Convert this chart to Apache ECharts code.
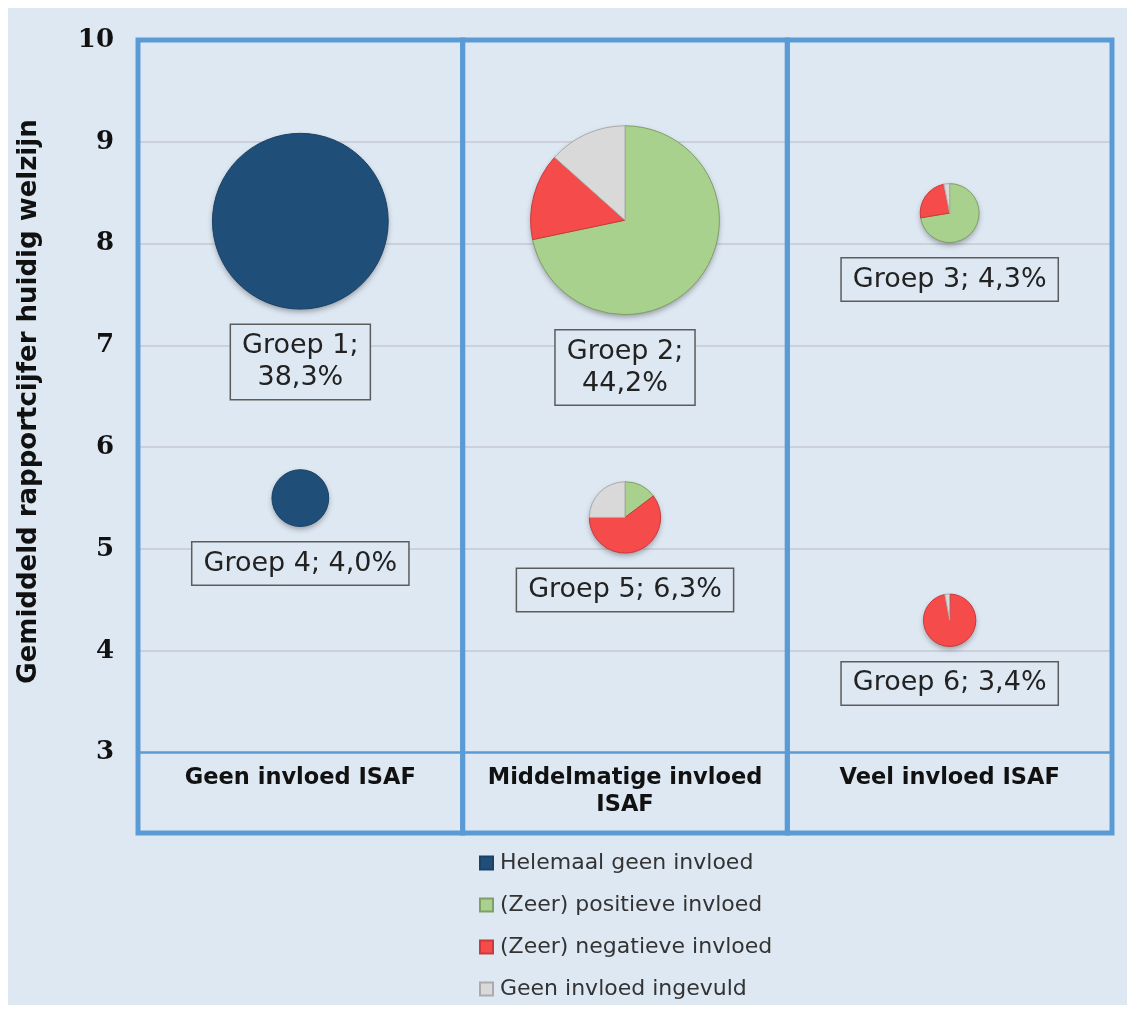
<!DOCTYPE html>
<html><head><meta charset="utf-8">
<script src="https://cdn.jsdelivr.net/npm/echarts@6/dist/echarts.min.js"></script>
<style>html,body{margin:0;padding:0;background:#fff}#c{width:1135px;height:1013px}</style>
</head><body><div id="c"></div>
<script>
// ---- data ----
const categories = ['Geen invloed ISAF', 'Middelmatige invloed\nISAF', 'Veel invloed ISAF'];
const yTicks = [3, 4, 5, 6, 7, 8, 9, 10];
const gridTicks = [4, 5, 6, 7, 8, 9];
const groupNames = ['Groep 1', 'Groep 2', 'Groep 3', 'Groep 4', 'Groep 5', 'Groep 6'];
const groupShare = [38.3, 44.2, 4.3, 4.0, 6.3, 3.4];          // % of respondents
const groupPanel = [0, 1, 2, 0, 1, 2];                          // index into categories
const groupScore = [8.22, 8.23, 8.30, 5.50, 5.31, 4.30];        // gemiddeld rapportcijfer
const labelTexts = ['Groep 1;\n38,3%', 'Groep 2;\n44,2%', 'Groep 3; 4,3%', 'Groep 4; 4,0%', 'Groep 5; 6,3%', 'Groep 6; 3,4%'];
const segmentNames = ['Helemaal geen invloed', '(Zeer) positieve invloed', '(Zeer) negatieve invloed', 'Geen invloed ingevuld'];
const segHelemaal = [100, 0, 0, 100, 0, 0];
const segPositief = [0, 71.7, 72.4, 0, 14.7, 0.5];
const segNegatief = [0, 14.9, 24.4, 0, 60.3, 96.5];
const segGeen     = [0, 13.4, 3.2, 0, 25.0, 3.0];

// ---- style ----
const BG = '#dee8f3';
const BLUE = '#5b9bd5';
const AXIS_MIN = 2.21;          // leaves room for the category band below 3
const RADIUS_PER_SQRT = 14.2;   // bubble radius = k * sqrt(share)
const colors = ['#1f4e79', '#a9d18e', '#f54b4b', '#d9d9d9'];
const borders = ['#1a4266', '#7f9f66', '#c93a3a', '#ababab'];
const segValues = [segHelemaal, segPositief, segNegatief, segGeen];

function segData(si) {
  return groupNames.map((g, gi) => {
    let start = 0;
    for (let k = 0; k < si; k++) start += segValues[k][gi];
    const total = segValues.reduce((s, a) => s + a[gi], 0);
    return [groupPanel[gi] + 0.5, groupScore[gi], groupShare[gi], start / total, (start + segValues[si][gi]) / total];
  });
}
const bubbleData = groupNames.map((g, gi) => [groupPanel[gi] + 0.5, groupScore[gi], groupShare[gi]]);

const pieSeries = segmentNames.map((name, si) => ({
  name: name,
  type: 'custom',
  z: 3,
  silent: true,
  itemStyle: { color: colors[si], borderColor: borders[si], borderWidth: 1 },
  encode: { x: 0, y: 1 },
  data: segData(si),
  renderItem: (params, api) => {
    const c = api.coord([api.value(0), api.value(1)]);
    const r = RADIUS_PER_SQRT * Math.sqrt(api.value(2));
    const a0 = api.value(3), a1 = api.value(4);
    if (!(a1 - a0 > 0)) return { type: 'group', children: [] };
    return {
      type: 'sector',
      shape: { cx: c[0], cy: c[1], r0: 0, r: r,
        startAngle: -Math.PI / 2 + 2 * Math.PI * a0,
        endAngle: -Math.PI / 2 + 2 * Math.PI * a1, clockwise: true },
      style: { fill: colors[si], stroke: borders[si], lineWidth: 1 }
    };
  }
}));

const option = {
  backgroundColor: '#ffffff',
  animation: false,
  color: colors,
  graphic: [{ type: 'rect', z: -10, silent: true, shape: { x: 8, y: 8, width: 1119, height: 997 }, style: { fill: BG } }],
  grid: { left: 138, right: 23, top: 40, bottom: 180, containLabel: false },
  xAxis: { type: 'value', min: 0, max: 3, show: false },
  yAxis: {
    type: 'value', min: AXIS_MIN, max: 10,
    name: 'Gemiddeld rapportcijfer huidig welzijn',
    nameLocation: 'middle', nameRotate: 90, nameGap: 96,
    nameTextStyle: { fontFamily: 'DejaVu Sans', fontWeight: 'bold', fontSize: 26, color: '#111', padding: [0, 0, 0, 70] },
    axisLine: { show: false }, axisTick: { show: false }, splitLine: { show: false },
    axisLabel: { customValues: yTicks, margin: 24, fontFamily: 'DejaVu Serif', fontWeight: 'bold', fontSize: 26, color: '#111' }
  },
  legend: {
    data: segmentNames, orient: 'vertical', left: 474, top: 847,
    itemWidth: 13, itemHeight: 13, itemGap: 20, icon: 'rect',
    textStyle: { fontFamily: 'DejaVu Sans', fontSize: 22, color: '#333', padding: [0, 0, 0, 2] },
    selectedMode: false
  },
  series: [
    { // gridlines
      type: 'scatter', z: 0, silent: true, symbolSize: 0, clip: false,
      data: categories.map((c, i) => [i + 0.5, 3]),
      markLine: { silent: true, z: 0, symbol: 'none', label: { show: false },
        lineStyle: { color: '#c6c8d2', width: 1.5, type: 'solid' },
        data: gridTicks.map(v => ({ yAxis: v })) }
    },
    { // bubble shadows and labels
      type: 'custom', z: 2, silent: true, encode: { x: 0, y: 1 },
      data: bubbleData,
      renderItem: (params, api) => {
        const gi = params.dataIndex;
        const c = api.coord([api.value(0), api.value(1)]);
        const r = RADIUS_PER_SQRT * Math.sqrt(api.value(2));
        return { type: 'group', children: [
          { type: 'circle', shape: { cx: c[0], cy: c[1], r: r - 1 },
            style: { fill: BG, shadowBlur: 6, shadowOffsetY: 3, shadowColor: 'rgba(0,0,0,0.4)' } },
          { type: 'text', x: c[0], y: c[1] + r + 16,
            style: { text: labelTexts[gi], align: 'center', verticalAlign: 'top',
              fontFamily: 'DejaVu Sans', fontSize: 27, fill: '#222', lineHeight: 32,
              padding: [5, 11, 5, 11], borderColor: '#5c5c5c', borderWidth: 1.5, backgroundColor: BG } }
        ] };
      }
    },
    { // category labels
      type: 'custom', z: 4, silent: true, encode: { x: 0, y: 1 },
      data: categories.map((c, i) => [i + 0.5, 3]),
      renderItem: (params, api) => {
        const c = api.coord([api.value(0), api.value(1)]);
        return { type: 'text', x: c[0], y: c[1] + 12,
          style: { text: categories[params.dataIndex], align: 'center', verticalAlign: 'top',
            fontFamily: 'DejaVu Sans', fontWeight: 'bold', fontSize: 22.5, fill: '#111', lineHeight: 27 } };
      }
    },
    { // panel borders and baseline
      type: 'scatter', z: 5, silent: true, symbolSize: 0, clip: false,
      data: categories.map((c, i) => [i + 0.5, 3]),
      markLine: { silent: true, z: 6, symbol: 'none', label: { show: false },
        lineStyle: { color: BLUE, width: 2.5, type: 'solid' },
        data: [{ yAxis: 3 }] },
      markArea: { silent: true, z: 7,
        itemStyle: { color: 'rgba(0,0,0,0)', borderColor: BLUE, borderWidth: 5 },
        data: categories.map((c, i) => [{ xAxis: i, yAxis: AXIS_MIN }, { xAxis: i + 1, yAxis: 10 }]) }
    }
  ].concat(pieSeries)
};
const chart = echarts.init(document.getElementById('c'));
chart.setOption(option);
</script></body></html>
